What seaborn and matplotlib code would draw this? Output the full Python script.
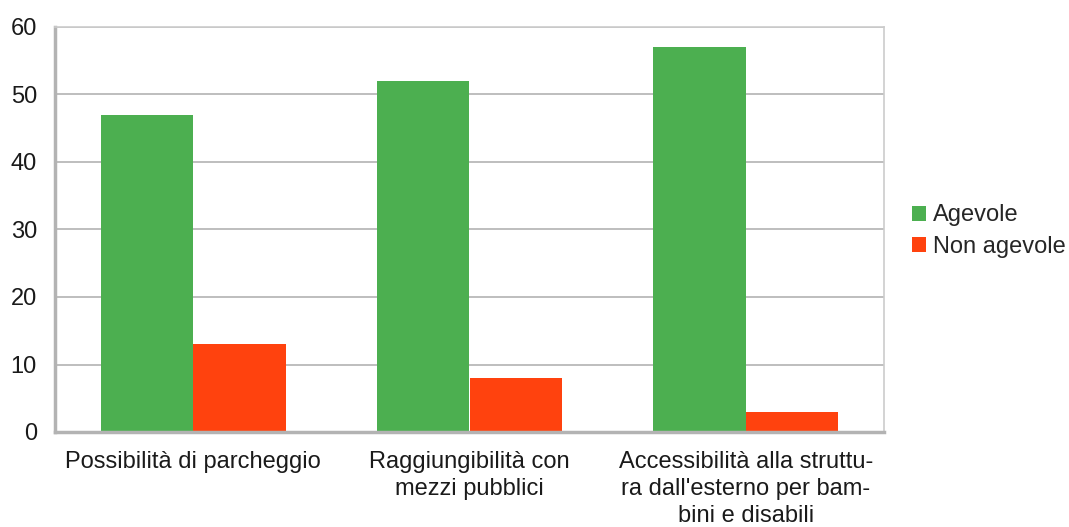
import pandas as pd
import numpy as np
import matplotlib
matplotlib.use('Agg')
import matplotlib.pyplot as plt
import seaborn as sns

categories = ['Possibilità di parcheggio',
              'Raggiungibilità con\nmezzi pubblici',
              "Accessibilità alla struttu-\nra dall'esterno per bam-\nbini e disabili"]
agevole = [47, 52, 57]
non_agevole = [13, 8, 3]
series = ['Agevole', 'Non agevole']
colors = ['#4CAF50', '#FF420E']

df = pd.DataFrame({
    'categoria': categories * 2,
    'valore': agevole + non_agevole,
    'serie': [series[0]] * 3 + [series[1]] * 3,
})

sns.set_style('white')
plt.rcParams['font.family'] = ['Liberation Sans', 'DejaVu Sans']

fig = plt.figure(figsize=(10.69, 5.27), dpi=100)
ax = fig.add_axes([55 / 1069, 1 - 432 / 527, (884 - 55) / 1069, (432 - 27) / 527])

sns.barplot(data=df, x='categoria', y='valore', hue='serie', palette=colors,
            width=0.67, saturation=1, linewidth=0, ax=ax, legend=True)

ax.set_ylim(0, 60)
ax.set_xlim(-0.5, 2.5)
ax.set_yticks(np.arange(0, 61, 10))
ax.yaxis.grid(True, color='#b3b3b3', linewidth=1.2)
ax.set_axisbelow(True)
ax.set_xlabel('')
ax.set_ylabel('')

# category ticks sit on the group boundaries
ax.set_xticks([0, 1, 2])
ax.set_xticklabels(categories, fontsize=17, color='#1a1a1a', linespacing=1.27)
ax.tick_params(axis='x', length=0, pad=14)
ax.set_xticks([-0.5, 0.5, 1.5, 2.5], minor=True)
ax.tick_params(axis='x', which='minor', length=7, width=1.2, color='#b3b3b3')
ax.tick_params(axis='y', length=7, width=1.2, color='#b3b3b3', labelsize=17,
               labelcolor='#1a1a1a', pad=6)

for side in ['left', 'bottom']:
    ax.spines[side].set_color('#b3b3b3')
    ax.spines[side].set_linewidth(2.5)
for side in ['top', 'right']:
    ax.spines[side].set_color('#cccccc')
    ax.spines[side].set_linewidth(1.2)

ax.legend(title=None, frameon=False, fontsize=17, loc='center left',
          bbox_to_anchor=((912 - 55) / 829, 0.496), borderaxespad=0, borderpad=0,
          handlelength=0.6, handleheight=0.6, handletextpad=0.3, labelspacing=0.4)

plt.savefig('out.png', dpi=100)
